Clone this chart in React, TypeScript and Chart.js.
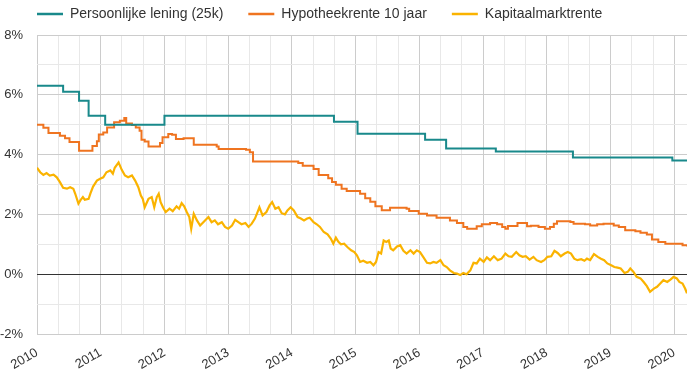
import React, { useEffect, useRef } from "react";
import { Chart, registerables } from "chart.js";

Chart.register(...registerables);

const seriesLabels = ["Persoonlijke lening (25k)", "Hypotheekrente 10 jaar", "Kapitaalmarktrente"];
const seriesColors = ["#19898b", "#ef7420", "#fab300"];

const yTickValues = [-2, 0, 2, 4, 6, 8];
const xTickYears = [2010, 2011, 2012, 2013, 2014, 2015, 2016, 2017, 2018, 2019, 2020];

const leningDates = [2010.0, 2010.41, 2010.66, 2010.81, 2011.07, 2012.0, 2014.66, 2015.03, 2016.09, 2016.42, 2017.2, 2018.41, 2019.97, 2020.2];
const leningValues = [6.3, 6.1, 5.8, 5.3, 5.0, 5.3, 5.1, 4.7, 4.5, 4.2, 4.1, 3.9, 3.8, 3.8];

const hypotheekDates = [
  2010.0, 2010.1, 2010.18, 2010.36, 2010.44, 2010.51, 2010.66, 2010.87, 2010.94, 2010.97,
  2011.04, 2011.1, 2011.21, 2011.3, 2011.37, 2011.4, 2011.49, 2011.55, 2011.61, 2011.64,
  2011.69, 2011.75, 2011.93, 2011.97, 2012.06, 2012.12, 2012.18, 2012.3, 2012.46, 2012.82,
  2012.85, 2013.28, 2013.34, 2013.39, 2014.1, 2014.17, 2014.34, 2014.42, 2014.57, 2014.63,
  2014.69, 2014.78, 2014.86, 2015.07, 2015.15, 2015.23, 2015.31, 2015.41, 2015.54, 2015.8,
  2015.84, 2015.99, 2016.12, 2016.27, 2016.48, 2016.59, 2016.69, 2016.75, 2016.9, 2016.98,
  2017.11, 2017.22, 2017.3, 2017.35, 2017.39, 2017.54, 2017.69, 2017.75, 2017.87, 2017.97,
  2018.05, 2018.11, 2018.16, 2018.37, 2018.42, 2018.6, 2018.68, 2018.79, 2018.89, 2019.05,
  2019.13, 2019.23, 2019.39, 2019.47, 2019.57, 2019.65, 2019.75, 2019.86, 2020.13, 2020.2,
];
const hypotheekValues = [
  5.0, 4.9, 4.72, 4.63, 4.55, 4.42, 4.13, 4.29, 4.45, 4.67,
  4.74, 4.91, 5.08, 5.13, 5.22, 5.04, 4.99, 4.91, 4.8, 4.5,
  4.44, 4.27, 4.39, 4.58, 4.69, 4.66, 4.52, 4.55, 4.33, 4.27,
  4.19, 4.16, 4.08, 3.77, 3.72, 3.63, 3.52, 3.32, 3.21, 3.08,
  2.99, 2.86, 2.78, 2.69, 2.54, 2.42, 2.27, 2.14, 2.22, 2.19,
  2.11, 2.02, 1.96, 1.89, 1.8, 1.71, 1.58, 1.52, 1.6, 1.67,
  1.71, 1.67, 1.58, 1.52, 1.61, 1.71, 1.6, 1.62, 1.58, 1.52,
  1.58, 1.69, 1.77, 1.75, 1.69, 1.67, 1.63, 1.67, 1.69, 1.63,
  1.58, 1.47, 1.44, 1.39, 1.33, 1.16, 1.08, 1.02, 0.97, 0.93,
];

const kapitaalDates = [
  2010.0, 2010.05, 2010.1, 2010.15, 2010.2, 2010.26, 2010.31, 2010.36, 2010.41, 2010.47,
  2010.52, 2010.57, 2010.6, 2010.65, 2010.68, 2010.72, 2010.75, 2010.81, 2010.84, 2010.88,
  2010.94, 2010.99, 2011.04, 2011.09, 2011.15, 2011.19, 2011.22, 2011.28, 2011.33, 2011.38,
  2011.43, 2011.49, 2011.54, 2011.59, 2011.63, 2011.66, 2011.69, 2011.75, 2011.8, 2011.84,
  2011.88, 2011.91, 2011.94, 2011.98, 2012.02, 2012.08, 2012.13, 2012.19, 2012.23, 2012.27,
  2012.31, 2012.35, 2012.39, 2012.42, 2012.46, 2012.51, 2012.56, 2012.61, 2012.69, 2012.74,
  2012.79, 2012.84, 2012.9, 2012.95, 2013.0, 2013.06, 2013.11, 2013.16, 2013.21, 2013.27,
  2013.32, 2013.37, 2013.42, 2013.45, 2013.49, 2013.54, 2013.6, 2013.65, 2013.69, 2013.74,
  2013.79, 2013.84, 2013.89, 2013.93, 2013.98, 2014.03, 2014.09, 2014.14, 2014.19, 2014.24,
  2014.28, 2014.34, 2014.39, 2014.44, 2014.5, 2014.56, 2014.61, 2014.65, 2014.69, 2014.73,
  2014.77, 2014.82, 2014.87, 2014.93, 2014.98, 2015.02, 2015.07, 2015.12, 2015.18, 2015.23,
  2015.28, 2015.32, 2015.36, 2015.4, 2015.44, 2015.48, 2015.52, 2015.55, 2015.59, 2015.65,
  2015.7, 2015.75, 2015.8, 2015.86, 2015.91, 2015.96, 2016.01, 2016.06, 2016.12, 2016.17,
  2016.22, 2016.27, 2016.33, 2016.38, 2016.43, 2016.48, 2016.54, 2016.59, 2016.64, 2016.69,
  2016.74, 2016.8, 2016.85, 2016.9, 2016.95, 2017.01, 2017.06, 2017.11, 2017.17, 2017.23,
  2017.29, 2017.35, 2017.4, 2017.45, 2017.52, 2017.57, 2017.62, 2017.67, 2017.73, 2017.79,
  2017.84, 2017.91, 2017.96, 2018.01, 2018.07, 2018.12, 2018.17, 2018.22, 2018.28, 2018.33,
  2018.38, 2018.43, 2018.48, 2018.54, 2018.59, 2018.63, 2018.68, 2018.74, 2018.8, 2018.85,
  2018.9, 2018.95, 2019.01, 2019.06, 2019.11, 2019.16, 2019.22, 2019.27, 2019.31, 2019.36,
  2019.41, 2019.47, 2019.52, 2019.57, 2019.62, 2019.68, 2019.73, 2019.78, 2019.83, 2019.89,
  2019.94, 2019.99, 2020.04, 2020.08, 2020.13, 2020.17, 2020.2,
];
const kapitaalValues = [
  3.56, 3.41, 3.32, 3.38, 3.3, 3.33, 3.24, 3.08, 2.89, 2.86,
  2.91, 2.86, 2.69, 2.36, 2.47, 2.58, 2.49, 2.52, 2.71, 2.93,
  3.13, 3.19, 3.24, 3.41, 3.47, 3.36, 3.56, 3.74, 3.49, 3.3,
  3.24, 3.3, 3.13, 2.91, 2.63, 2.52, 2.24, 2.52, 2.58, 2.24,
  2.58, 2.69, 2.41, 2.22, 2.08, 2.19, 2.11, 2.27, 2.19, 2.38,
  2.27, 2.08, 1.91, 1.52, 2.02, 1.8, 1.63, 1.74, 1.91, 1.74,
  1.8, 1.67, 1.74, 1.58, 1.52, 1.63, 1.82, 1.74, 1.67, 1.71,
  1.58, 1.69, 1.86, 2.02, 2.24, 1.97, 2.08, 2.3, 2.41, 2.19,
  2.24, 2.04, 2.0, 2.13, 2.24, 2.13, 1.91, 1.86, 1.8, 1.86,
  1.89, 1.74, 1.67, 1.58, 1.41, 1.33, 1.19, 1.02, 1.22, 1.08,
  1.0, 1.02, 0.91, 0.8, 0.74, 0.63, 0.41, 0.45, 0.38, 0.41,
  0.3, 0.41, 0.74, 0.69, 1.13, 1.08, 1.13, 0.86, 0.8, 0.93,
  0.97, 0.78, 0.69, 0.8, 0.69, 0.8, 0.74, 0.58, 0.38, 0.36,
  0.41, 0.38, 0.47, 0.3, 0.24, 0.13, 0.04, 0.02, -0.03, 0.04,
  0.0, 0.13, 0.38, 0.36, 0.52, 0.41, 0.56, 0.47, 0.6, 0.47,
  0.52, 0.69, 0.6, 0.58, 0.74, 0.63, 0.58, 0.6, 0.49, 0.58,
  0.47, 0.41, 0.47, 0.58, 0.6, 0.78, 0.71, 0.6, 0.69, 0.74,
  0.69, 0.52, 0.47, 0.5, 0.45, 0.52, 0.47, 0.67, 0.58, 0.52,
  0.47, 0.36, 0.3, 0.24, 0.22, 0.19, 0.04, 0.08, 0.19, 0.08,
  -0.09, -0.14, -0.26, -0.4, -0.59, -0.48, -0.42, -0.31, -0.2, -0.26,
  -0.18, -0.09, -0.14, -0.26, -0.31, -0.48, -0.64,
];

const FONT = 'Arial, "Liberation Sans", sans-serif';

const toPoints = (xs: number[], ys: number[]) => xs.map((x, i) => ({ x, y: ys[i] }));

const legendPlugin = {
  id: "customLegend",
  afterDraw(chart: any) {
    const ctx = chart.ctx;
    ctx.save();
    ctx.font = `14px ${FONT}`;
    ctx.textBaseline = "middle";
    ctx.textAlign = "left";
    let x = 37;
    const y = 14;
    chart.data.datasets.forEach((ds: any) => {
      ctx.strokeStyle = ds.borderColor;
      ctx.lineWidth = 2.5;
      ctx.beginPath();
      ctx.moveTo(x, y);
      ctx.lineTo(x + 26, y);
      ctx.stroke();
      ctx.fillStyle = "#333";
      const tx = x + 33;
      ctx.fillText(ds.label, tx, y + 0.5);
      x = tx + ctx.measureText(ds.label).width + 25;
    });
    ctx.restore();
  },
};

export default function App() {
  const ref = useRef<HTMLCanvasElement>(null);
  useEffect(() => {
    if (!ref.current) return;
    const minorX: number[] = [];
    for (let i = 0; i <= 30; i++) minorX.push(2010 + i / 3);
    const chart = new Chart(ref.current, {
      type: "line",
      data: {
        datasets: [
          {
            label: seriesLabels[0],
            data: toPoints(leningDates, leningValues),
            borderColor: seriesColors[0],
            backgroundColor: seriesColors[0],
            borderWidth: 2,
            pointRadius: 0,
            stepped: "before",
          },
          {
            label: seriesLabels[1],
            data: toPoints(hypotheekDates, hypotheekValues),
            borderColor: seriesColors[1],
            backgroundColor: seriesColors[1],
            borderWidth: 2,
            pointRadius: 0,
            stepped: "before",
          },
          {
            label: seriesLabels[2],
            data: toPoints(kapitaalDates, kapitaalValues),
            borderColor: seriesColors[2],
            backgroundColor: seriesColors[2],
            borderWidth: 2.2,
            pointRadius: 0,
            tension: 0,
          },
        ],
      },
      options: {
        responsive: false,
        animation: false,
        layout: { padding: { top: 35, right: 13, left: 0, bottom: 0 } },
        plugins: { legend: { display: false }, tooltip: { enabled: false } },
        scales: {
          x: {
            type: "linear",
            min: 2010,
            max: 2020.2,
            afterBuildTicks: (scale: any) => {
              scale.ticks = minorX.map((v) => ({ value: v }));
            },
            afterFit: (scale: any) => {
              scale.height = 52;
            },
            ticks: {
              autoSkip: false,
              minRotation: 30,
              maxRotation: 30,
              padding: 11,
              color: "#333",
              font: { family: FONT, size: 13 },
              callback: (v: any) => {
                const r = Math.round(v);
                return Math.abs(v - r) < 1e-6 && xTickYears.includes(r) ? String(r) : "";
              },
            },
            grid: {
              drawTicks: false,
              color: (c: any) => {
                const v = c.tick ? c.tick.value : 0;
                return Math.abs(v - Math.round(v)) < 1e-6 ? "#cccccc" : "#e8e8e8";
              },
            },
            border: { display: false },
          },
          y: {
            min: -2,
            max: 8,
            afterFit: (scale: any) => {
              scale.width = 37;
            },
            ticks: {
              stepSize: 1,
              padding: 14,
              color: "#333",
              font: { family: FONT, size: 13 },
              callback: (v: any) => (yTickValues.includes(Number(v)) ? `${v}%` : ""),
            },
            grid: {
              drawTicks: false,
              color: (c: any) => {
                const v = c.tick ? c.tick.value : 1;
                if (v === 0) return "#333333";
                return Math.abs(v) % 2 === 0 ? "#cccccc" : "#e8e8e8";
              },
            },
            border: { display: false },
          },
        },
      },
      plugins: [legendPlugin],
    });
    return () => chart.destroy();
  }, []);
  return (
    <div style={{ position: "fixed", left: 0, top: 0, width: 700, height: 386, background: "#fff" }}>
      <canvas ref={ref} width={700} height={386} style={{ display: "block" }} />
    </div>
  );
}
